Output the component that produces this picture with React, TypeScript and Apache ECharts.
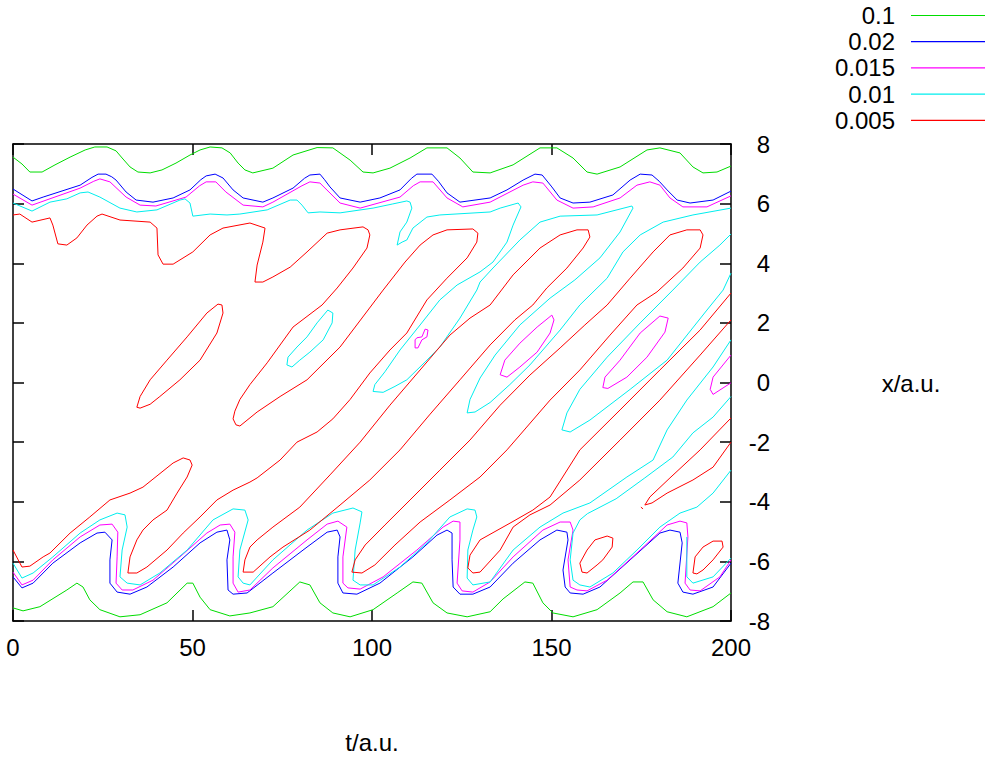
import React, { useEffect, useRef } from "react";
import * as echarts from "echarts";

const tTicks = { min: 0, max: 200, step: 50 };
const xTicks = { min: -8, max: 8, step: 2 };
const levelNames = ["0.1", "0.02", "0.015", "0.01", "0.005"];
const levelColors = ["#00dd00", "#0000ff", "#ff00ff", "#00eeee", "#ff0000"];

// ---- level 0.1 (green)
const green1 = [[0,7.56],[2.5,7.33],[4.7,7.06],[8.1,7.06],[11.7,7.3],[15.9,7.56],[20.1,7.8],[22.8,7.9],[26.2,7.9],[28.7,7.77],[30.4,7.53],[32.6,7.23],[34.8,7.06],[38.2,7.03],[41.5,7.13],[45.4,7.36],[49.3,7.63],[52.1,7.8],[54.9,7.9],[58.2,7.87],[60.5,7.7],[62.7,7.36],[64.6,7.13],[66.8,7.03],[72.4,7.19],[78,7.63],[84.7,7.88],[89.1,7.87],[93.9,7.46],[97.5,7.06],[100.3,7.03],[105,7.19],[110.6,7.53],[115.3,7.87],[120.9,7.87],[124.5,7.53],[128.1,7.06],[132.9,7.03],[139.3,7.3],[146.8,7.87],[151.5,7.87],[156,7.53],[159.9,7.06],[162.7,6.99],[169.1,7.23],[176.6,7.8],[180.2,7.87],[185.8,7.7],[189.4,7.23],[192.2,7.03],[196.1,7.06],[200,7.26]];
const green2 = [[0,-7.56],[2.8,-7.66],[7.5,-7.52],[15,-6.96],[17.8,-6.73],[19.5,-6.86],[21.4,-7.29],[24.2,-7.62],[29.8,-7.86],[35.4,-7.79],[42.9,-7.39],[48.5,-6.73],[50.1,-6.73],[52.1,-7.2],[54.9,-7.62],[60.4,-7.83],[66,-7.73],[72.4,-7.52],[79.9,-6.69],[82.7,-6.79],[85.5,-7.39],[89.1,-7.73],[93.9,-7.86],[100.3,-7.62],[107,-7.06],[111.4,-6.69],[113.9,-6.73],[117,-7.39],[120.9,-7.73],[126.5,-7.86],[132.9,-7.69],[136.5,-7.26],[142.6,-6.69],[144.8,-6.73],[147.6,-7.39],[150.4,-7.73],[156,-7.86],[162.7,-7.62],[169.1,-7.06],[172.7,-6.69],[175.5,-6.69],[178.3,-7.29],[182.2,-7.69],[187.7,-7.86],[195,-7.52],[200,-7.06]];

// ---- level 0.02 (blue)
const blue1 = [[0,6.49],[5.3,6.09],[8.4,6.22],[18.7,6.62],[22,6.88],[23.7,6.99],[25.9,6.99],[27.5,6.9],[28.7,6.79],[31.5,6.39],[34.3,6.12],[39,6.05],[44.6,6.19],[49.3,6.46],[52.3,6.8],[53.8,6.93],[56.3,6.99],[58.5,6.86],[61.3,6.46],[64.1,6.19],[69.6,6.05],[72.4,6.19],[78,6.52],[81.2,6.85],[82.7,6.96],[85.5,6.99],[86.8,6.8],[88.3,6.56],[91.1,6.19],[96.7,6.05],[102.2,6.19],[107.8,6.46],[111,6.85],[112.5,6.99],[116.7,6.99],[118.5,6.75],[120.9,6.36],[124.5,6.05],[132.9,6.19],[137.6,6.46],[142.1,6.79],[145.4,6.99],[147.4,6.96],[150.1,6.56],[152.4,6.19],[156,6.02],[160.7,6.05],[167.1,6.29],[171.9,6.79],[174.7,6.99],[178,6.96],[180,6.75],[182.2,6.46],[185,6.12],[188.6,6.02],[195,6.12],[200,6.42]];
const blue2 = [[0,-6.52],[2.5,-6.89],[5.6,-6.73],[11.1,-6.06],[18.7,-5.38],[23.4,-5.05],[25.6,-5.02],[27.6,-5.28],[27,-5.95],[27,-6.73],[29,-7.03],[32.6,-7.1],[37.3,-6.86],[44.6,-6.19],[52.1,-5.38],[56.8,-5.02],[59.6,-4.95],[60.4,-5.28],[59.6,-5.95],[59.9,-6.96],[61.3,-7.1],[65.2,-7.06],[72.4,-6.39],[81.9,-5.52],[87.5,-5.02],[90.3,-4.95],[91.1,-5.18],[90.5,-5.85],[90.5,-6.73],[91.9,-7.06],[95.8,-7.1],[102.2,-6.73],[111.4,-5.85],[118.1,-5.12],[120.9,-4.95],[122.3,-5.05],[122.3,-5.95],[122.6,-6.86],[124.5,-7.1],[128.1,-7.1],[132.9,-6.86],[139.3,-6.06],[146.8,-5.28],[151.5,-4.95],[154.3,-5.02],[154.6,-5.28],[153.2,-6.29],[153.8,-6.86],[155.2,-7.06],[158.8,-7.1],[163.5,-6.86],[171.9,-5.95],[180.2,-5.05],[183,-4.95],[185.8,-5.02],[186.4,-5.38],[185.2,-6.73],[186.6,-7.03],[189.4,-7.1],[195,-6.86],[200,-6.06]];

// ---- level 0.015 (magenta)
const magenta1 = [[0,6.32],[5.3,5.95],[18.7,6.52],[22.5,6.75],[24.2,6.83],[27,6.73],[31.5,6.22],[35.4,5.95],[39.8,5.92],[48.2,6.22],[52,6.6],[53.8,6.73],[56.5,6.73],[59.3,6.39],[64.1,5.95],[69.6,5.89],[72.4,6.05],[80.5,6.6],[82.7,6.73],[85.5,6.69],[91.1,6.02],[96.7,5.85],[107.8,6.22],[111.5,6.6],[113.4,6.73],[117,6.73],[120.9,6.19],[125.3,5.89],[132.9,6.05],[142.1,6.62],[144.8,6.73],[147.6,6.69],[151.5,6.12],[156,5.85],[161.6,5.89],[169.1,6.19],[173.8,6.62],[177.4,6.73],[180.2,6.62],[183,6.19],[186.6,5.89],[193.3,5.89],[200,6.26]];
const magenta2 = [[0,-6.36],[2.5,-6.79],[5.6,-6.63],[11.1,-5.95],[18.7,-5.18],[24.2,-4.78],[27.6,-4.75],[29.2,-5.02],[29,-5.85],[28.7,-6.73],[30.4,-6.96],[33.4,-6.96],[39,-6.63],[46.5,-5.85],[54,-5.05],[57.7,-4.78],[60.4,-4.75],[61.8,-5.02],[61.3,-5.85],[61.3,-6.73],[62.7,-7.03],[66,-6.96],[72.4,-6.22],[81.9,-5.28],[87.5,-4.75],[90.5,-4.65],[93,-4.85],[91.9,-5.85],[91.9,-6.73],[93.3,-6.89],[96.7,-6.93],[103.1,-6.52],[112.5,-5.62],[119.8,-4.85],[122.6,-4.65],[124.5,-4.68],[124.5,-5.28],[123.7,-6.73],[125.1,-6.99],[128.1,-7.03],[132.9,-6.69],[139.3,-5.85],[147.6,-4.95],[152.4,-4.68],[155.2,-4.68],[156,-4.95],[154.6,-5.95],[155.2,-6.86],[157.1,-6.96],[159.9,-6.99],[165.5,-6.63],[174.7,-5.62],[182.2,-4.78],[185.8,-4.65],[187.7,-4.71],[188,-5.18],[187.2,-6.73],[188.6,-6.96],[191.4,-6.99],[196.9,-6.52],[200,-5.95]];
const magentaBlob = [[112,1.43],[112,1.16],[112.8,1.16],[113.9,1.43],[115.3,1.53],[115.6,1.76],[114.8,1.79],[113.9,1.53],[112.5,1.5],[112,1.43]];
const magentaIsland2 = [[135.7,0.26],[137,0.75],[141.2,1.32],[146,1.86],[150.1,2.26],[150.7,2.1],[149.6,1.66],[146,1.02],[141.2,0.52],[137.6,0.18],[135.7,0.26]];
const magentaIsland3 = [[164.3,-0.17],[164.9,0.18],[169.1,0.75],[174.7,1.66],[180.2,2.23],[182.5,2.16],[181.6,1.69],[176.6,0.85],[171,0.18],[165.7,-0.2],[164.3,-0.17]];
const magentaEdge = [[200,0.92],[195,0.18],[194.2,-0.23],[195,-0.4],[200,-0.01]];

// ---- level 0.01 (cyan)
const cyan1 = [[0,6.02],[5.3,5.75],[10.3,6.05],[15,6.16],[18.7,6.36],[20.9,6.39],[24.2,6.22],[29.8,5.85],[34.5,5.72],[40.1,5.79],[46.5,6.12],[47.9,6.16],[49.3,6.02],[50.1,5.58],[54.9,5.65],[59.6,5.62],[63.2,5.65],[70.8,5.79],[77.2,6.12],[79.1,6.12],[80.5,5.95],[82.2,5.69],[85.5,5.72],[91.1,5.69],[100.3,5.85],[105.8,5.99],[109.7,6.09],[110.6,6.05],[111.1,5.85],[109.7,5.38],[107.8,5.05],[107,4.61],[108.4,4.71],[109.7,4.78],[111.4,5.18],[115.3,5.55],[118.9,5.62],[132.9,5.72],[135.7,5.85],[140.7,6.02],[141.5,5.89],[139.3,5.28],[137.6,4.71],[133.7,4.04],[130.1,3.71],[123.7,3.27],[118.9,2.77],[113.4,1.93],[107.8,1.09],[103.6,0.36],[100.8,-0.07],[100.3,-0.3],[103.1,-0.33],[106.4,-0.13],[109.7,0.09],[114.8,0.69],[118.9,1.19],[124.5,2.16],[129.2,3.1],[130.1,3.37],[133.7,3.84],[141.2,4.78],[146.8,5.38],[152.4,5.58],[162.7,5.62],[172.4,5.92],[172.7,5.85],[169.1,5.05],[163.5,4.18],[156.5,3.44],[149.6,2.83],[141.2,1.93],[134.3,0.92],[130.1,0.15],[127.3,-0.57],[126.5,-1.02],[128.7,-0.99],[132.9,-0.67],[138.4,-0.07],[144,0.59],[152.4,1.76],[157.9,2.6],[165.5,3.5],[169.9,4.38],[174.7,4.95],[181.1,5.38],[189.4,5.62],[200,5.85]];
const cyanLoop3 = [[200,4.98],[196.9,4.61],[191.4,4.04],[183.8,3.1],[174.7,2],[165.5,0.85],[157.9,-0.23],[154.3,-1.02],[152.9,-1.59],[155.2,-1.66],[160.7,-1.26],[171.9,-0.23],[182.2,0.75],[193.3,2.43],[197.8,3.1],[200,3.67]];
const cyanIsland = [[76.3,0.59],[76.6,0.85],[79.1,1.19],[81.9,1.53],[84.7,2],[87.7,2.43],[89.1,2.33],[88.9,2],[86.4,1.43],[82.7,1.02],[79.9,0.75],[77.7,0.52],[76.3,0.59]];
const cyan2 = [[0,-6.06],[2.5,-6.56],[5.6,-6.39],[11.1,-5.85],[18.7,-5.05],[24.2,-4.61],[29,-4.38],[31.2,-4.44],[31.8,-4.85],[30.4,-5.62],[29.8,-6.52],[31.8,-6.73],[35.4,-6.79],[40.9,-6.39],[48.5,-5.62],[55.7,-4.61],[61.3,-4.24],[64.6,-4.28],[65.5,-4.61],[63.2,-5.62],[62.7,-6.52],[64.1,-6.73],[66,-6.79],[72.4,-5.95],[81.9,-4.95],[89.1,-4.38],[94.7,-4.21],[97.2,-4.34],[96.7,-4.71],[95.3,-5.62],[94.7,-6.63],[96.7,-6.79],[100.3,-6.79],[107.8,-6.19],[115.3,-5.38],[121.7,-4.51],[126.5,-4.24],[128.7,-4.28],[129.2,-4.51],[128.1,-4.95],[126.7,-5.62],[126.5,-6.56],[128.1,-6.79],[132.9,-6.69],[139.3,-5.62],[146.8,-4.85],[153.2,-4.38],[160.7,-4.04],[171,-3.17],[178.3,-2.6],[182.2,-1.59],[187.7,-0.59],[195,0.52],[200,1.43]];
const cyan3 = [[200,-0.47],[195,-1.16],[189.4,-1.69],[183.8,-2.5],[176,-3.2],[168,-3.9],[160,-4.4],[157.9,-4.61],[156,-5.05],[155.2,-5.95],[156,-6.63],[157.9,-6.79],[160.7,-6.86],[167.1,-6.39],[173.8,-5.62],[180.2,-4.85],[185.8,-4.38],[190.5,-4.18],[195,-3.71],[200,-2.94]];
const cyan4 = [[187.7,-5.18],[187.7,-6.52],[189.4,-6.73],[195,-6.52],[200,-5.89]];

// ---- level 0.005 (red)
const red1 = [[0,5.62],[1.9,5.65],[5.3,5.38],[10.3,5.52],[11.1,5.28],[12.5,4.65],[15,4.61],[17.8,4.85],[20.6,5.28],[23.4,5.58],[24.8,5.65],[29.8,5.45],[38.2,5.38],[40.1,5.18],[40.4,4.28],[41.8,3.97],[44.6,3.97],[50.1,4.38],[54.9,4.95],[58.5,5.18],[66,5.35],[70.2,5.18],[69.6,4.71],[68,3.94],[67.4,3.37],[69.6,3.37],[72.4,3.54],[77.2,3.87],[81.9,4.38],[87.5,5.01],[91.1,5.12],[97.5,5.22],[98.9,5.12],[99.4,4.95],[98.6,4.51],[94.7,3.84],[90.3,3.17],[86.1,2.6],[78,1.86],[70.8,0.66],[66,-0.07],[63.2,-0.57],[61.8,-0.96],[61.3,-1.22],[62.1,-1.42],[63.2,-1.46],[68,-0.99],[74.4,-0.47],[81.9,0.09],[91.1,1.19],[103.1,3.1],[109.2,4.04],[113.4,4.61],[117,4.95],[120.9,5.12],[128.1,5.15],[129.5,5.01],[129.2,4.71],[126.5,4.18],[120.9,3.5],[115.3,2.77],[109.7,1.66],[105,1.09],[99.4,0.32],[93.9,-0.57],[89.1,-1.22],[84.7,-1.66],[79.1,-2],[74.4,-2.6],[68,-3.2],[66,-3.34],[61.3,-3.61],[56.8,-3.94],[52.1,-4.51],[47.4,-5.05],[42.9,-5.62],[37.3,-6.19],[34.5,-6.39],[32,-6.39],[32.6,-5.85],[34.5,-5.28],[36.2,-4.95],[39,-4.61],[42.9,-4.28],[45.7,-3.71],[48.5,-3.17],[49.9,-2.77],[49.3,-2.6],[47.4,-2.53],[44.6,-2.7],[36.2,-3.51],[32.6,-3.71],[27,-3.94],[21.4,-4.51],[15.9,-5.05],[10.3,-5.72],[8.4,-5.85],[4.7,-6.16],[2.5,-6.19],[0,-5.62]];
const redIsland = [[34.5,-0.83],[35.4,-0.47],[38.2,0.09],[42.9,0.75],[48.5,1.53],[54,2.33],[57.1,2.63],[58.2,2.6],[58.5,2.33],[56.8,1.66],[52.1,0.75],[46.5,0.09],[40.9,-0.47],[38.2,-0.73],[35.4,-0.86],[34.5,-0.83]];
const redGap2 = [[66.9,-6.36],[64.1,-6.36],[64.6,-5.95],[66,-5.52],[68,-5.28],[72.4,-4.85],[79.9,-4.18],[88.3,-3.1],[96.7,-2],[105,-0.76],[113.4,0.42],[121.7,1.59],[127.3,2.16],[132.9,2.6],[139.3,3.61],[146.8,4.51],[152.4,4.95],[157.1,5.12],[160.2,5.12],[160.7,4.88],[158.8,4.51],[154.3,3.84],[148.7,3.17],[144.8,2.6],[139.8,2.1],[132.9,1.26],[124.5,0.09],[116.2,-1.06],[107.8,-2.26],[99.4,-3.27],[91.1,-4.11],[82.7,-4.95],[75.2,-5.52],[71.6,-5.85],[66.9,-6.36]];
const redGap3 = [[97.2,-6.39],[100.8,-6.12],[106.4,-5.45],[113.4,-4.68],[121.7,-3.94],[130.1,-3.17],[137.6,-2.26],[141.2,-1.76],[149.6,-0.59],[157.9,0.42],[166.3,1.59],[173.8,2.6],[179.4,3.04],[186.6,3.84],[191.4,4.51],[192.2,4.95],[191.4,5.12],[187.7,5.12],[183,4.95],[178.3,4.38],[171.9,3.5],[165.5,2.6],[159.3,1.93],[152.4,1.16],[144,0.25],[135.7,-0.76],[127.3,-1.93],[118.9,-2.94],[110.6,-3.94],[103.6,-4.78],[98.1,-5.45],[95.3,-5.95],[94.4,-6.36],[97.2,-6.39]];
const redGap4 = [[200,2.1],[191.4,0.92],[180.2,-0.59],[169.1,-1.93],[157.9,-3.27],[149.6,-4.11],[144,-4.44],[139.3,-4.85],[135.7,-5.62],[130.1,-6.36],[128.1,-6.39],[126.7,-6.22],[127.3,-5.79],[130.1,-5.28],[139,-4.68],[144.8,-4.28],[149.6,-3.84],[157.9,-2.26],[169.1,-0.92],[180.2,0.42],[191.4,1.76],[200,3]];
const redGap5 = [[200,-1.19],[191.4,-2.26],[183,-3.2],[177.4,-3.84],[176,-4.11],[178,-4.04],[182.2,-3.71],[189.4,-3.27],[195,-2.84],[200,-2]];
const redDot = [[174.9,-4.18],[175.5,-4.24]];
const redLoopA = [[159.9,-5.62],[162.1,-5.28],[165.5,-5.15],[167.1,-5.22],[166.9,-5.52],[164.3,-5.95],[162.7,-6.12],[159.9,-6.39],[158.5,-6.36],[157.9,-6.06],[159.9,-5.62]];
const redLoopB = [[189.4,-6.39],[190,-5.85],[192.2,-5.52],[195,-5.32],[197.5,-5.32],[197.8,-5.52],[195,-5.95],[192.2,-6.29],[190.5,-6.42],[189.4,-6.39]];

const contours = [
  { level: 0, lines: [green1, green2] },
  { level: 1, lines: [blue1, blue2] },
  { level: 2, lines: [magenta1, magenta2, magentaBlob, magentaIsland2, magentaIsland3, magentaEdge] },
  { level: 3, lines: [cyan1, cyanLoop3, cyanIsland, cyan2, cyan3, cyan4] },
  { level: 4, lines: [red1, redIsland, redGap2, redGap3, redGap4, redGap5, redDot, redLoopA, redLoopB] },
];

const FONT = "'Liberation Sans', Arial, Helvetica, sans-serif";

export default function App() {
  const ref = useRef<HTMLDivElement>(null);
  useEffect(() => {
    if (!ref.current) return;
    const chart = echarts.init(ref.current, null, { renderer: "svg" });
    const series: any[] = [];
    contours.forEach((c) => {
      c.lines.forEach((line) => {
        series.push({
          type: "line",
          name: levelNames[c.level],
          data: line,
          showSymbol: false,
          symbol: "none",
          smooth: false,
          clip: false,
          lineStyle: { color: levelColors[c.level], width: 1 },
          emphasis: { disabled: true },
          xAxisIndex: 0,
          yAxisIndex: 0,
        });
      });
    });
    const axisLine = { show: true, onZero: false, lineStyle: { color: "#000", width: 1.5 } };
    const tick = { show: true, inside: true, length: 11, lineStyle: { color: "#000", width: 1.5 } };
    const legendGraphics: any[] = [];
    levelNames.forEach((name, i) => {
      const y = 15.5 + i * 26.2;
      legendGraphics.push({
        type: "text",
        x: 895,
        y,
        style: { text: name, fill: "#000", font: `24px ${FONT}`, textAlign: "right", textVerticalAlign: "middle" },
      });
      legendGraphics.push({
        type: "line",
        shape: { x1: 911, y1: y, x2: 985, y2: y },
        style: { stroke: levelColors[i], lineWidth: 1.2 },
      });
    });
    chart.setOption({
      animation: false,
      backgroundColor: "#fff",
      tooltip: { show: false },
      grid: { left: 13, right: 258, top: 144, bottom: 136, containLabel: false },
      xAxis: [
        {
          type: "value", position: "bottom", min: tTicks.min, max: tTicks.max, interval: tTicks.step,
          axisLine, axisTick: tick, splitLine: { show: false }, axisPointer: { show: false },
          axisLabel: { show: true, color: "#000", fontSize: 24, fontFamily: FONT, margin: 14 },
        },
        {
          type: "value", position: "top", min: tTicks.min, max: tTicks.max, interval: tTicks.step,
          axisLine, axisTick: tick, splitLine: { show: false }, axisLabel: { show: false },
        },
      ],
      yAxis: [
        {
          type: "value", position: "right", min: xTicks.min, max: xTicks.max, interval: xTicks.step,
          axisLine, axisTick: tick, splitLine: { show: false }, axisPointer: { show: false },
          axisLabel: { show: true, color: "#000", fontSize: 24, fontFamily: FONT, margin: 39, align: "right" },
        },
        {
          type: "value", position: "left", min: xTicks.min, max: xTicks.max, interval: xTicks.step,
          axisLine, axisTick: tick, splitLine: { show: false }, axisLabel: { show: false },
        },
      ],
      graphic: [
        ...legendGraphics,
        { type: "text", x: 372, y: 742, style: { text: "t/a.u.", fill: "#000", font: `24px ${FONT}`, textAlign: "center", textVerticalAlign: "middle" } },
        { type: "text", x: 911, y: 383, style: { text: "x/a.u.", fill: "#000", font: `24px ${FONT}`, textAlign: "center", textVerticalAlign: "middle" } },
      ],
      series,
    });
    return () => chart.dispose();
  }, []);
  return <div ref={ref} style={{ position: "absolute", left: 0, top: 0, width: 989, height: 757 }} />;
}
